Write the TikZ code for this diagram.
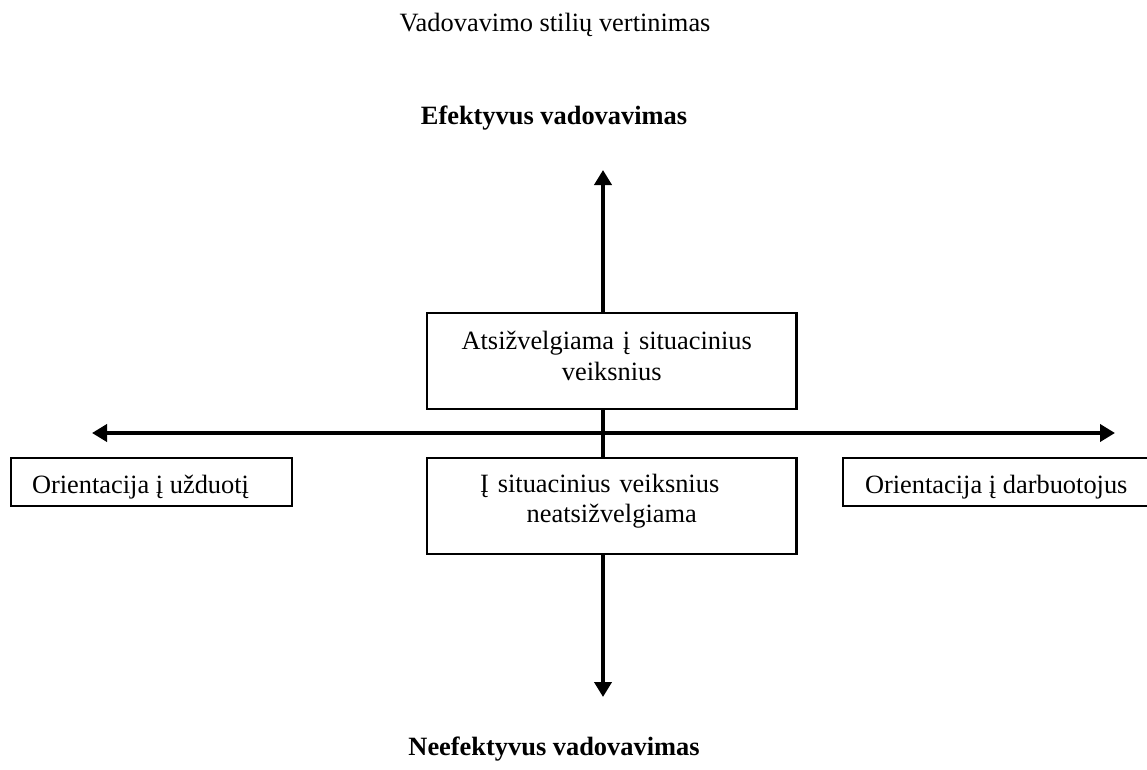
\documentclass[tikz,border=0pt]{standalone}
\usepackage{fontspec}
\setmainfont{Liberation Serif}
\usetikzlibrary{arrows.meta}
\begin{document}
\begin{tikzpicture}[x=1pt,y=-1pt,
  every node/.style={font=\fontsize{26.4}{31}\selectfont, inner sep=0pt, outer sep=0pt},
  heading/.style={anchor=base},
  boldheading/.style={anchor=base, font=\fontsize{26.4}{31}\selectfont\bfseries},
  axisline/.style={line width=4pt,
    {Triangle[width=17pt,length=15pt]}-{Triangle[width=17pt,length=15pt]}},
  factorbox/.style={draw, line width=2.6pt, fill=white, anchor=north west,
    text width=369.5pt, align=center},
  sidebox/.style={draw, line width=2.6pt, fill=white, anchor=north west,
    text height=35pt, text depth=13pt}
]
% page frame
\useasboundingbox (0,0) rectangle (1147,770);
\fill[white] (0,0) rectangle (1147,770);
\clip (0,0) rectangle (1147,770);

% headings
\node[heading] (title) at (555,32) {Vadovavimo stilių vertinimas};
\node[boldheading] (effective) at (554,125) {Efektyvus vadovavimas};
\node[boldheading] (ineffective) at (554,755) {Neefektyvus vadovavimas};

% axes
\coordinate (up) at (603,170);
\coordinate (down) at (603,697);
\coordinate (leftend) at (92,433);
\coordinate (rightend) at (1115,433);
\draw[axisline] (down) -- (up);
\draw[axisline] (leftend) -- (rightend);

% boxes on the axes
\node[factorbox, text height=36pt, text depth=60pt] (considered) at (427,313)
  {Atsižvelgiama į situacinius\hbox to 10pt{}\\ veiksnius};
\node[factorbox, text height=34pt, text depth=62pt,
      font=\fontsize{26.4}{30}\selectfont] (ignored) at (427,458)
  {Į situacinius veiksnius\hbox to 24pt{}\\ neatsižvelgiama};
\node[sidebox, inner xsep=21pt] (task) at (11,458)
  {\makebox[239pt][l]{Orientacija į užduotį}};
\node[sidebox, inner xsep=22pt] (staff) at (843,458)
  {\makebox[280pt][l]{Orientacija į darbuotojus}};
\end{tikzpicture}
\end{document}
